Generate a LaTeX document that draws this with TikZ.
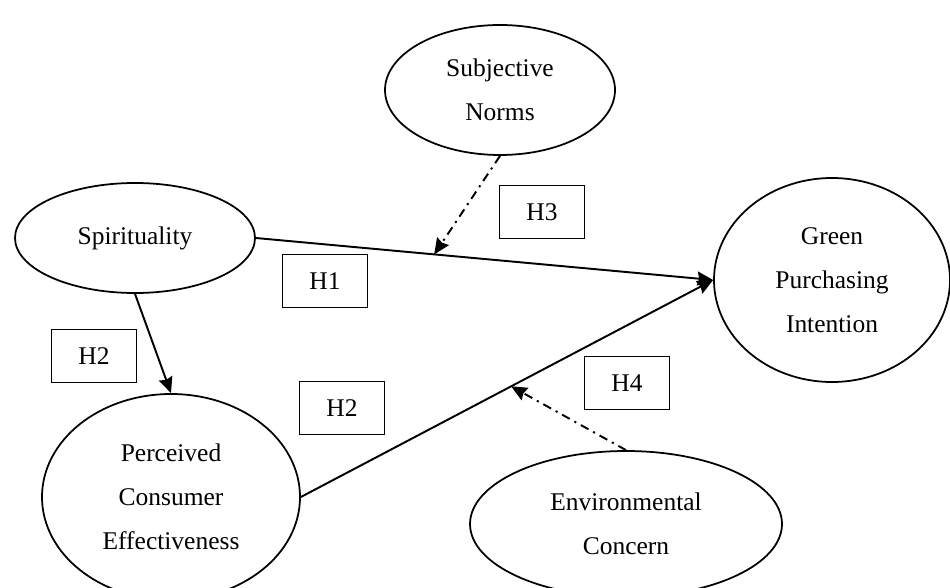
\documentclass[tikz,border=0pt]{standalone}
\usepackage{fontspec}
\setmainfont{Liberation Serif}
\usetikzlibrary{shapes.geometric, arrows.meta}

\begin{document}
\begin{tikzpicture}[
    x=0.2mm, y=-0.2mm,
    every node/.style={font=\fontsize{14.5}{25}\selectfont},
    construct/.style={ellipse, draw, line width=1pt, inner sep=0pt, align=center},
    hyp/.style={rectangle, draw, line width=1pt, minimum width=85*0.2mm, minimum height=53*0.2mm},
    arrow/.style={->, >={Stealth[length=9pt, width=8pt, inset=1pt]}, line width=1.1pt},
    modarrow/.style={arrow, dash pattern=on 5pt off 3pt on 1.2pt off 3pt}
]
\useasboundingbox (0,0) rectangle (950,587);

% Constructs
\node[construct, minimum width=230*0.2mm, minimum height=130*0.2mm] (norms) at (500,90) {Subjective\\Norms};
\node[construct, minimum width=240*0.2mm, minimum height=110*0.2mm] (spir) at (135,238) {Spirituality};
\node[construct, minimum width=236*0.2mm, minimum height=204*0.2mm] (gpi) at (832,280) {Green\\Purchasing\\Intention};
\node[construct, minimum width=258*0.2mm, minimum height=206*0.2mm] (pce) at (171,497) {Perceived\\Consumer\\Effectiveness};
\node[construct, minimum width=312*0.2mm, minimum height=146*0.2mm] (concern) at (626,524) {Environmental\\Concern};

% Hypotheses
\node[hyp] (h3) at (542,212) {H3};
\node[hyp] (h1) at (325,281) {H1};
\node[hyp] (h2a) at (94,356) {H2};
\node[hyp] (h2b) at (342,408) {H2};
\node[hyp] (h4) at (627,383) {H4};

% Paths
\draw[arrow] (spir.east) -- (gpi.west) coordinate[pos=0.39] (h1join);
\draw[arrow] (spir.south) -- (pce.north);
\draw[arrow] (pce.east) -- (gpi.west) coordinate[pos=0.51] (h4join);

% Moderators
\draw[modarrow] (norms.south) -- (h1join);
\draw[modarrow] (concern.north) -- (h4join);

\end{tikzpicture}
\end{document}
